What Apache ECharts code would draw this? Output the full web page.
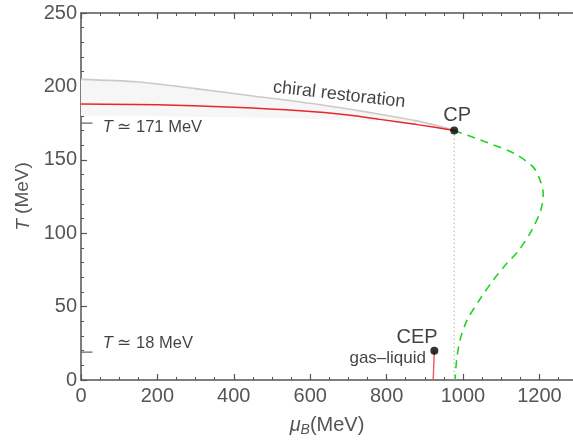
<!DOCTYPE html>
<html>
<head>
<meta charset="utf-8">
<script src="https://cdn.jsdelivr.net/npm/echarts@6/dist/echarts.min.js"></script>
<style>
  html, body { margin: 0; padding: 0; background: #fff; }
  #chart { width: 573px; height: 442px; }
</style>
</head>
<body>
<div id="chart"></div>
<script>
// chiral restoration band (upper edge drawn grey)
var bandMu   = [0, 150, 300, 450, 600, 750, 880, 977];
var bandHigh = [204.8, 203, 198.5, 193.5, 188.5, 182.5, 176.5, 170];
// faint lower edge of the shaded band
var fillMu   = [0, 150, 300, 450, 600, 750, 896];
var fillLow  = [180, 179.8, 179.4, 178.8, 178, 176.8, 175.5];
var fillHigh = [204.8, 203, 198.5, 193.5, 188.5, 182.5, 175.8];

// crossover line (red)
var redMu = [0, 200, 400, 574, 700, 783, 880, 977];
var redT  = [188, 187.5, 185.8, 183.4, 180.5, 177.5, 174, 170];

// first order line (green dashed)
var greenMu = [977, 1045, 1132, 1184, 1202, 1210, 1204, 1180, 1145, 1110, 1079, 1043, 1011, 993, 984, 979];
var greenT  = [170, 163.5, 154.6, 145, 136, 127, 116, 102, 88, 78, 68, 54.5, 40.9, 28, 15, 0];

// gas-liquid line
var glMu = [922, 925];
var glT  = [0, 20];

// critical points
var cpMu = 977, cpT = 170;
var cepMu = 925, cepT = 20;

// marked temperatures on the T axis
var markT = [175, 19];

var annoText = ['CP', 'CEP', 'gas\u2013liquid', '{i|T} \u2243 171 MeV', '{i|T} \u2243 18 MeV', 'chiral restoration'];
var annoMu   = [985, 880, 803, 57, 57, 676];
var annoT    = [180.5, 29, 15, 172.3, 25.2, 194.3];

var xTicks = [0, 200, 400, 600, 800, 1000, 1200];
var yTicks = [0, 50, 100, 150, 200, 250];

var FONT = 'Liberation Sans';

function zip(xs, ys) {
  var out = [];
  for (var i = 0; i < xs.length; i++) out.push([xs[i], ys[i]]);
  return out;
}

var chart = echarts.init(document.getElementById('chart'));

var annoData = [];
var annoStyles = [
  {fontSize: 20, align: 'center'},
  {fontSize: 20, align: 'center'},
  {fontSize: 17, align: 'center'},
  {fontSize: 16.5, align: 'left'},
  {fontSize: 16.5, align: 'left'},
  {fontSize: 18, align: 'center', rotate: -6.5}
];
for (var i = 0; i < annoText.length; i++) {
  var st = annoStyles[i];
  annoData.push({
    value: [annoMu[i], annoT[i]],
    label: {
      show: true,
      position: 'inside',
      formatter: annoText[i],
      fontSize: st.fontSize,
      align: st.align,
      verticalAlign: 'middle',
      rotate: st.rotate || 0,
      color: '#111',
      textBorderWidth: 0,
      fontFamily: FONT,
      rich: {i: {fontStyle: 'italic', fontSize: st.fontSize, fontFamily: FONT, color: '#111', textBorderWidth: 0}}
    }
  });
}

var tickStyle = {color: '#555', width: 1.2};

var option = {
  animation: false,
  grid: {left: 81, top: 13, bottom: 62, right: 0},
  xAxis: [
    {
      type: 'value', min: 0, max: 1288, interval: 200, position: 'bottom',
      splitLine: {show: false},
      axisLine: {show: true, lineStyle: {color: '#555', width: 1.5}},
      axisTick: {show: true, inside: true, length: 6, lineStyle: tickStyle},
      minorTick: {show: true, splitNumber: 4, length: 3, lineStyle: {color: '#555'}},
      axisLabel: {
        color: '#555', fontSize: 20, fontFamily: FONT, margin: 6, showMaxLabel: false,
        formatter: function (v) { return xTicks.indexOf(v) >= 0 ? String(v) : ''; }
      },
      name: '{i|\u03bc}{s|B}(MeV)',
      nameLocation: 'middle', nameGap: 33,
      nameTextStyle: {
        color: '#555', fontSize: 20, fontFamily: FONT,
        rich: {
          i: {fontStyle: 'italic', fontSize: 20, fontFamily: FONT, color: '#555'},
          s: {fontStyle: 'italic', fontSize: 14, fontFamily: FONT, color: '#555', padding: [10, 0, 0, 0]}
        }
      }
    },
    {
      type: 'value', min: 0, max: 1288, interval: 200, position: 'top',
      splitLine: {show: false},
      axisLine: {show: true, lineStyle: {color: '#555', width: 1.5}},
      axisTick: {show: true, inside: true, length: 6, lineStyle: tickStyle},
      minorTick: {show: true, splitNumber: 4, length: 3, lineStyle: {color: '#555'}},
      axisLabel: {show: false}
    }
  ],
  yAxis: {
    type: 'value', min: 0, max: 250, interval: 50,
    splitLine: {show: false},
    axisLine: {show: true, lineStyle: {color: '#555', width: 1.5}},
    axisTick: {show: true, inside: true, length: 6, lineStyle: tickStyle},
    minorTick: {show: true, splitNumber: 5, length: 3, lineStyle: {color: '#555'}},
    axisLabel: {
      color: '#555', fontSize: 20, fontFamily: FONT, margin: 4,
      formatter: function (v) { return yTicks.indexOf(v) >= 0 ? String(v) : ''; }
    },
    name: '{i|T} (MeV)',
    nameLocation: 'middle', nameGap: 48, nameRotate: 90,
    nameTextStyle: {
      color: '#555', fontSize: 19, fontFamily: FONT,
      rich: {i: {fontStyle: 'italic', fontSize: 19, fontFamily: FONT, color: '#555'}}
    }
  },
  // the reference has no right frame edge: mask the grid's right border
  graphic: [{
    type: 'rect', right: 0, top: 14.5, z: 100,
    shape: {width: 2.5, height: 364.5},
    style: {fill: '#fff'}
  }],
  series: [
    {
      type: 'custom', silent: true,
      data: [0],
      renderItem: function (params, api) {
        var pts = [];
        for (var i = 0; i < fillMu.length; i++) pts.push(api.coord([fillMu[i], fillHigh[i]]));
        for (var j = fillMu.length - 1; j >= 0; j--) pts.push(api.coord([fillMu[j], fillLow[j]]));
        return {type: 'polygon', shape: {points: pts}, style: {fill: '#f6f6f6'}};
      },
      z: 1
    },
    {
      type: 'line', data: zip(bandMu, bandHigh), symbol: 'none',
      smooth: 0.3, lineStyle: {color: '#cacaca', width: 1.6}, z: 2
    },
    {
      type: 'line', data: zip(redMu, redT), symbol: 'none',
      smooth: 0.3, lineStyle: {color: '#e8262c', width: 1.4}, z: 3
    },
    {
      type: 'line', data: [[cpMu, 0], [cpMu, cpT]], symbol: 'none',
      lineStyle: {color: '#b5b5b5', width: 1, type: [1.5, 2.5]}, z: 2
    },
    {
      type: 'line', data: zip(greenMu, greenT), symbol: 'none',
      smooth: 0.3, lineStyle: {color: '#22d422', width: 1.6, type: [8, 6]}, z: 3
    },
    {
      type: 'line', data: zip(glMu, glT), symbol: 'none',
      lineStyle: {color: '#ee5a60', width: 1.4}, z: 3
    },
    {
      type: 'line', data: [[0, markT[0]], [30, markT[0]]], symbol: 'none',
      lineStyle: {color: '#666', width: 1.3}
    },
    {
      type: 'line', data: [[0, markT[1]], [30, markT[1]]], symbol: 'none',
      lineStyle: {color: '#666', width: 1.3}
    },
    {
      type: 'scatter', data: [[cpMu, cpT], [cepMu, cepT]], symbolSize: 8,
      itemStyle: {color: '#000'}, z: 5
    },
    {
      type: 'scatter', data: annoData, symbolSize: 0, silent: true, z: 6
    }
  ]
};

chart.setOption(option);
</script>
</body>
</html>
